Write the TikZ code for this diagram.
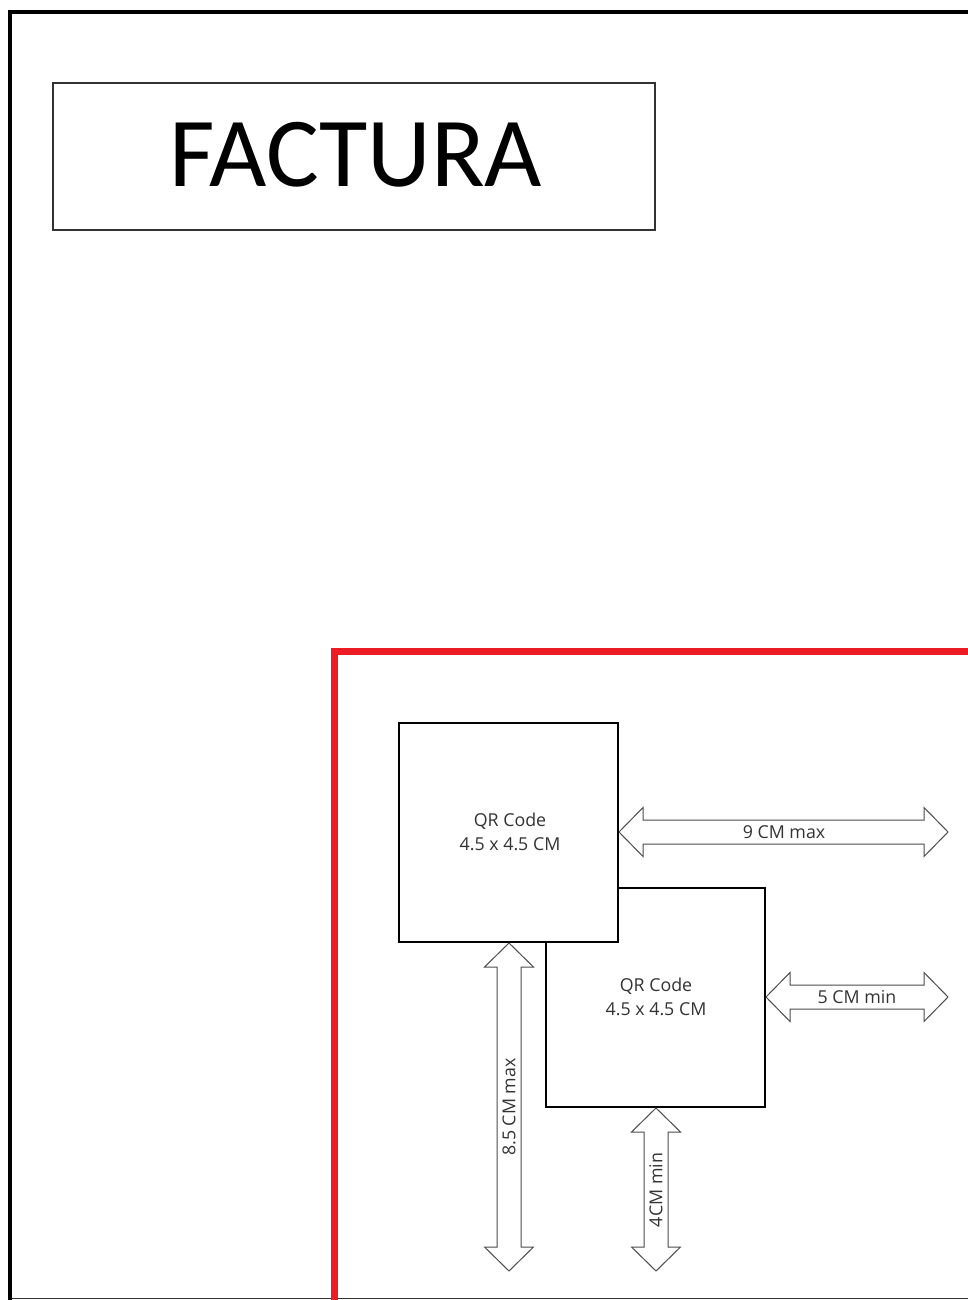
\documentclass[tikz,border=0pt]{standalone}
\usepackage{fontspec}
\setmainfont{Open Sans}
\newfontfamily\titlefont{Carlito}
\definecolor{redline}{HTML}{ED1C24}
\definecolor{txt}{HTML}{333333}
\newcommand\blockArrowH[4]{% name, x1, x2, y
  \draw[arrowstyle] (#2,#4) -- (#2+24,#4-24.5) -- (#2+24,#4-12) -- (#3-24,#4-12) -- (#3-24,#4-24.5) -- (#3,#4) -- (#3-24,#4+24.5) -- (#3-24,#4+12) -- (#2+24,#4+12) -- (#2+24,#4+24.5) -- cycle;
}
\newcommand\blockArrowV[4]{% name, y1, y2, x
  \draw[arrowstyle] (#4,#2) -- (#4-24.5,#2+24) -- (#4-12,#2+24) -- (#4-12,#3-24) -- (#4-24.5,#3-24) -- (#4,#3) -- (#4+24.5,#3-24) -- (#4+12,#3-24) -- (#4+12,#2+24) -- (#4+24.5,#2+24) -- cycle;
}
\begin{document}
\begin{tikzpicture}[x=1pt,y=-1pt,
  qrbox/.style={draw=black, line width=1.2pt, fill=white},
  arrowstyle/.style={draw=black!70, line width=1pt, fill=white, line join=miter},
  small/.style={text=txt, font=\fontsize{17.8}{24}\selectfont, inner sep=0pt},
  label/.style={small, align=center}]
\useasboundingbox (0,0) rectangle (968,1300);
\fill[white] (0,0) rectangle (968,1300);
% outer page border
\draw[black, line width=4pt] (10,1302) -- (10,12) -- (970,12);
\draw[black!80, line width=1.5pt] (12,1298.5) -- (970,1298.5);
% title
\node[draw=black!80, line width=1.2pt, minimum width=602pt, minimum height=147pt, inner sep=0pt] (title) at (354,156.5) {};
\node[font=\titlefont\fontsize{99}{99}\selectfont, inner sep=0pt] (titletext) at (356,155) {FACTURA};
% red frame
\draw[redline, line width=7pt] (334,1302) -- (334,651.5) -- (970,651.5);
% QR boxes (second one behind the first)
\node[qrbox, minimum width=219pt, minimum height=219pt, inner sep=0pt] (qr2) at (655.5,997.5) {};
\node[qrbox, minimum width=219pt, minimum height=219pt, inner sep=0pt] (qr1) at (508.5,832.5) {};
\node[label] (qr1t) at (510,832) {QR Code\\4.5 x 4.5 CM};
\node[label] (qr2t) at (656,997) {QR Code\\4.5 x 4.5 CM};
% arrows
\blockArrowH{a1}{619}{948}{832}
\node[small] (a1t) at (784,832) {9 CM max};
\blockArrowH{a2}{766}{948}{997}
\node[small] (a2t) at (857,997) {5 CM min};
\blockArrowV{a3}{943}{1271}{509}
\node[small, rotate=90] (a3t) at (509,1107) {8.5 CM max};
\blockArrowV{a4}{1108}{1271}{656}
\node[small, rotate=90] (a4t) at (656,1190) {4CM min};
\end{tikzpicture}
\end{document}
